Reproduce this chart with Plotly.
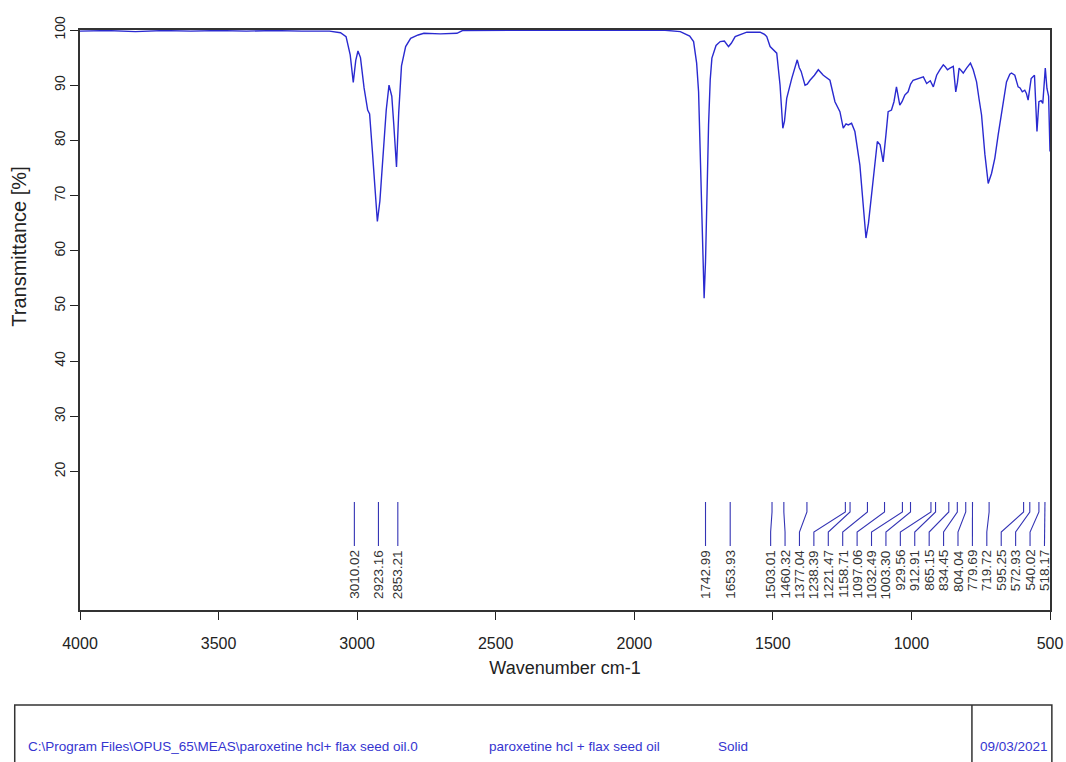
import plotly.graph_objects as go

# ---------------- data ----------------
wavenumber = [4000, 3900, 3800, 3700, 3600, 3500, 3400, 3300, 3200, 3100, 3060, 3040, 3025, 3014, 3005,
              2997, 2988, 2975, 2962, 2955, 2945, 2935, 2927, 2918, 2905, 2895, 2885, 2875, 2868, 2858,
              2850, 2840, 2825, 2807, 2780, 2759, 2700, 2640, 2620, 2500, 2300, 2100, 1900, 1834, 1800,
              1786, 1775, 1768, 1760, 1753, 1748, 1743, 1738, 1732, 1726, 1720, 1705, 1690, 1675, 1660,
              1650, 1636, 1594, 1546, 1530, 1522, 1510, 1500, 1486, 1474, 1468, 1464, 1458, 1450, 1432,
              1420, 1412, 1405, 1398, 1384, 1376, 1366, 1350, 1336, 1318, 1294, 1276, 1258, 1246, 1236,
              1228, 1216, 1204, 1186, 1175, 1164, 1155, 1143, 1130, 1123, 1113, 1102, 1092, 1084, 1072,
              1063, 1054, 1042, 1034, 1024, 1012, 1003, 994, 975, 957, 945, 932, 921, 909, 897,
              885, 879, 870, 861, 849, 840, 834, 828, 813, 801, 787, 777, 765, 756, 747,
              735, 723, 711, 699, 687, 675, 657, 645, 639, 627, 615, 608, 600, 591, 585,
              579, 568, 556, 547, 540, 532, 526, 517, 511, 505, 500]
transmittance = [99.8, 99.9, 99.7, 99.9, 99.8, 99.9, 99.8, 99.9, 99.8, 99.8, 99.5, 98.8, 95.5, 90.5, 94.5,
                 96.2, 95.0, 89.5, 85.5, 84.8, 78.0, 70.0, 65.3, 69.0, 78.0, 85.5, 90.0, 88.0, 83.0, 75.2,
                 85.0, 93.5, 97.0, 98.5, 99.1, 99.4, 99.3, 99.4, 99.9, 99.9, 100.0, 99.9, 100.0, 99.7, 98.9,
                 97.9, 94.0, 88.8, 75.0, 60.0, 51.4, 58.0, 70.0, 82.8, 91.0, 94.9, 97.2, 97.9, 98.0, 97.0,
                 97.6, 98.8, 99.6, 99.6, 99.2, 98.8, 97.0, 96.5, 95.8, 90.0, 84.0, 82.2, 83.5, 87.6, 91.2,
                 93.0, 94.6, 93.2, 92.5, 90.0, 90.2, 90.9, 91.8, 92.8, 91.8, 90.9, 87.0, 85.2, 82.2, 83.0,
                 82.8, 83.1, 81.6, 75.5, 68.0, 62.3, 65.0, 70.7, 77.0, 79.8, 79.2, 76.1, 81.0, 85.2, 85.5,
                 87.0, 89.7, 86.4, 87.0, 88.2, 88.8, 90.2, 90.9, 91.2, 91.5, 90.3, 90.8, 89.7, 91.8, 92.8,
                 93.7, 93.4, 92.8, 93.1, 93.4, 88.8, 90.5, 93.1, 92.2, 93.1, 94.0, 92.8, 90.6, 87.5, 84.6,
                 77.5, 72.2, 74.0, 76.8, 81.0, 85.2, 90.6, 92.0, 92.2, 91.8, 89.7, 89.5, 88.8, 89.1, 88.5,
                 87.3, 91.2, 91.8, 81.6, 87.0, 87.2, 86.7, 93.1, 89.4, 88.0, 78.0]

peak_labels = ["3010.02", "2923.16", "2853.21", "1742.99", "1653.93", "1503.01", "1460.32", "1377.04",
               "1238.39", "1221.47", "1158.71", "1097.06", "1032.49", "1003.30", "929.56", "912.91",
               "865.15", "834.45", "804.04", "779.69", "719.72", "595.25", "572.93", "540.02", "518.17"]
peaks = [float(s) for s in peak_labels]

x_ticks = [4000, 3500, 3000, 2500, 2000, 1500, 1000, 500]
y_ticks = [20, 30, 40, 50, 60, 70, 80, 90, 100]

info_path = "C:\\Program Files\\OPUS_65\\MEAS\\paroxetine hcl+ flax seed oil.0"
info_sample = "paroxetine hcl + flax seed oil"
info_form = "Solid"
info_date = "09/03/2021"

# ---------------- layout helpers ----------------
SX = 1066 / 1075          # horizontal compensation observed in the capture
W, H = 1075, 762
ML = round(79 / SX)
PLOT_R = 1050 / SX
MR = round(W - PLOT_R)
MT, MB = 30, 152
X_RANGE = [4000, 500]
Y_RANGE = [-5.1, 100]
FONT = "Liberation Sans, Arial, sans-serif"


def px_to_paper_x(px):
    return (px / SX - ML) / (W - ML - MR)


def px_to_paper_y(py):
    return (H - MB - py) / (H - MT - MB)


def px_to_y(py):
    return Y_RANGE[1] - (py - MT) * (Y_RANGE[1] - Y_RANGE[0]) / (H - MT - MB)


def cluster_start(c, gap, low):
    s = sum(c) / len(c) + (len(c) - 1) * gap / 2
    if s - (len(c) - 1) * gap < low:
        s = low + (len(c) - 1) * gap
    return s


# label placement: de-overlap with minimum gap (cm-1), clamped at right end
GAP = 52.0
LOW = 520.0
clusters = []
for p in peaks:
    clusters.append([p])
    while len(clusters) > 1:
        prev, cur = clusters[-2], clusters[-1]
        prev_last = cluster_start(prev, GAP, LOW) - (len(prev) - 1) * GAP
        if cluster_start(cur, GAP, LOW) > prev_last - GAP:
            clusters[-2] = prev + cur
            clusters.pop()
        else:
            break
label_pos = []
for c in clusters:
    s = cluster_start(c, GAP, LOW)
    label_pos += [s - k * GAP for k in range(len(c))]

y_top, y_b1, y_b2, y_bot, y_txt = px_to_y(502), px_to_y(512), px_to_y(532), px_to_y(546), px_to_y(548)

lx, ly = [], []
for p, q in zip(peaks, label_pos):
    lx += [p, p, q, q, None]
    ly += [y_top, y_b1, y_b2, y_bot, None]

fig = go.Figure()
fig.add_trace(go.Scatter(x=wavenumber, y=transmittance, mode="lines",
                         line=dict(color="#2a2ad0", width=1.4), hoverinfo="skip", showlegend=False))
fig.add_trace(go.Scatter(x=lx, y=ly, mode="lines",
                         line=dict(color="#3434b4", width=1.1), hoverinfo="skip", showlegend=False))

annotations = []
for lab, q in zip(peak_labels, label_pos):
    annotations.append(dict(x=q, y=y_txt, xref="x", yref="y", text=lab, showarrow=False,
                            textangle=-90, xanchor="center", yanchor="top",
                            font=dict(family=FONT, size=13.5, color="#333333")))

# y-axis title (centred on the labelled 20-100 span, as in the original)
annotations.append(dict(x=px_to_paper_x(18), y=px_to_paper_y(247), xref="paper", yref="paper",
                        text="Transmittance [%]", showarrow=False, textangle=-90,
                        xanchor="center", yanchor="middle",
                        font=dict(family=FONT, size=20, color="#222222")))

# info box
box_l, box_r, box_t, box_b, box_div = 14, 1052, 705, 775, 972
shapes = [
    dict(type="rect", xref="paper", yref="paper",
         x0=px_to_paper_x(box_l), x1=px_to_paper_x(box_r),
         y0=px_to_paper_y(box_b), y1=px_to_paper_y(box_t),
         line=dict(color="#333333", width=1.5), fillcolor="rgba(0,0,0,0)"),
    dict(type="line", xref="paper", yref="paper",
         x0=px_to_paper_x(box_div), x1=px_to_paper_x(box_div),
         y0=px_to_paper_y(box_b), y1=px_to_paper_y(box_t),
         line=dict(color="#333333", width=1.5)),
]
info_font = dict(family=FONT, size=13.5, color="#3535d0")
for txt, px in [(info_path, 25), (info_sample, 487), (info_form, 716), (info_date, 978)]:
    annotations.append(dict(x=px_to_paper_x(px), y=px_to_paper_y(746), xref="paper", yref="paper",
                            text=txt, showarrow=False, xanchor="left", yanchor="middle", font=info_font))

fig.update_layout(
    width=W, height=H,
    margin=dict(l=ML, r=MR, t=MT, b=MB),
    paper_bgcolor="white", plot_bgcolor="white",
    font=dict(family=FONT, size=14, color="#222222"),
    shapes=shapes, annotations=annotations,
    xaxis=dict(range=X_RANGE, tickvals=x_ticks, ticks="outside", ticklen=8, tickcolor="#222",
               ticklabelstandoff=10,
               showline=True, mirror=True, linecolor="#333", linewidth=1.5, showgrid=False,
               zeroline=False, tickfont=dict(size=16),
               title=dict(text="Wavenumber cm-1", font=dict(size=18), standoff=10)),
    yaxis=dict(range=Y_RANGE, tickvals=y_ticks, ticks="outside", ticklen=8, tickcolor="#222",
               tickangle=-90, showline=True, mirror=True, linecolor="#333", linewidth=1.5,
               showgrid=False, zeroline=False, tickfont=dict(size=14)),
)

fig.write_html("out.html", config={"displayModeBar": False},
               post_script="document.body.style.margin='0';document.body.style.overflow='hidden';")
